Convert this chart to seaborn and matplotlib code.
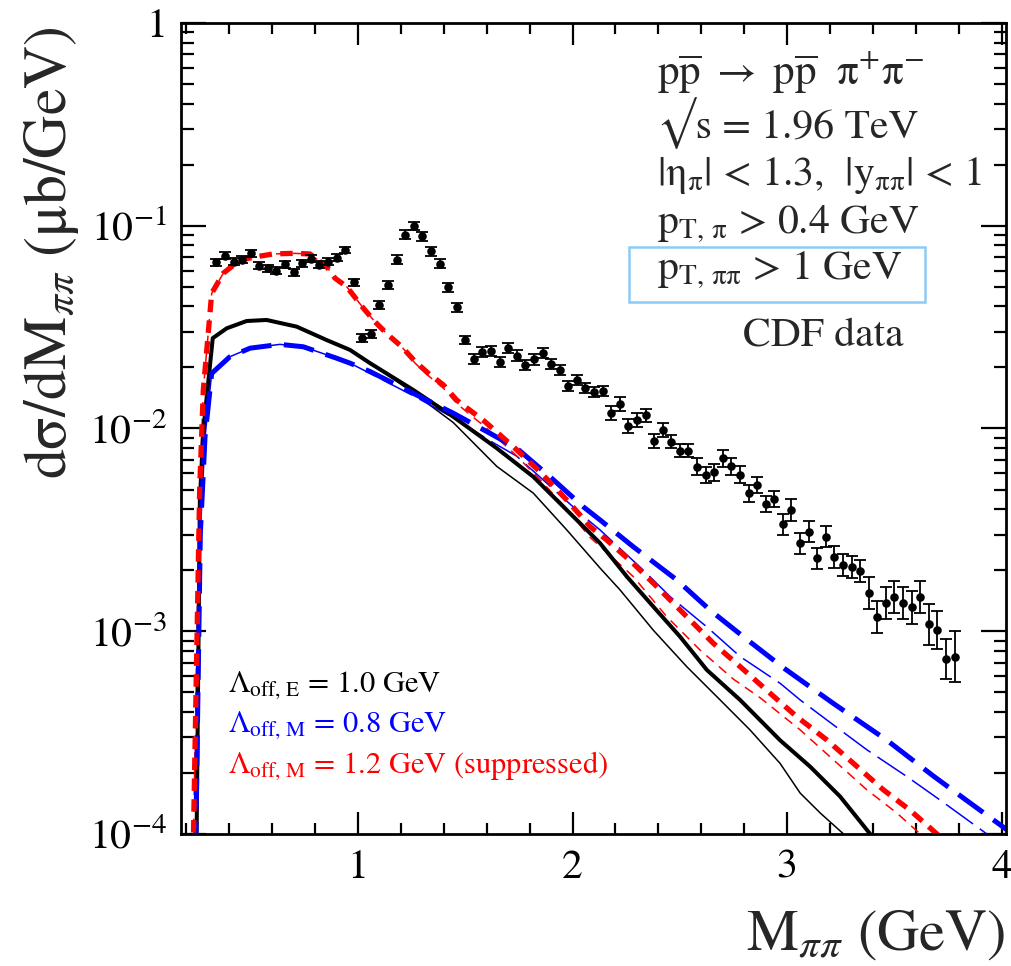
import numpy as np
import matplotlib
matplotlib.use("Agg")
import matplotlib.pyplot as plt
from matplotlib.patches import Rectangle
from matplotlib.ticker import FixedLocator, MultipleLocator, LogLocator, FuncFormatter, NullFormatter
import seaborn as sns

# ---------------- CDF data: dsigma/dM (ub/GeV) ----------------
cdf_mass = [0.34, 0.38, 0.42, 0.46, 0.50, 0.54, 0.58, 0.62, 0.66, 0.70,
            0.74, 0.78, 0.82, 0.86, 0.90, 0.94, 0.98, 1.02, 1.06, 1.10,
            1.14, 1.18, 1.22, 1.26, 1.30, 1.34, 1.38, 1.42, 1.46, 1.50,
            1.54, 1.58, 1.62, 1.66, 1.70, 1.74, 1.78, 1.82, 1.86, 1.90,
            1.94, 1.98, 2.02, 2.06, 2.10, 2.14, 2.18, 2.22, 2.26, 2.30,
            2.34, 2.38, 2.42, 2.46, 2.50, 2.54, 2.58, 2.62, 2.66, 2.70,
            2.74, 2.78, 2.82, 2.86, 2.90, 2.94, 2.98, 3.02, 3.06, 3.10,
            3.14, 3.18, 3.22, 3.26, 3.30, 3.34, 3.38, 3.42, 3.46, 3.50,
            3.54, 3.58, 3.62, 3.66, 3.70, 3.74, 3.78]
cdf_xsec = [0.0660, 0.0712, 0.0665, 0.0680, 0.0731, 0.0635, 0.0617, 0.0600, 0.0645, 0.0589,
            0.0653, 0.0686, 0.0642, 0.0663, 0.0696, 0.0759, 0.0526, 0.0280, 0.0293, 0.0407,
            0.0510, 0.0680, 0.0903, 0.0997, 0.0887, 0.0748, 0.0650, 0.0497, 0.0396, 0.0273,
            0.0221, 0.0238, 0.0241, 0.0212, 0.0249, 0.0229, 0.0206, 0.0219, 0.0235, 0.0208,
            0.0194, 0.0162, 0.0173, 0.0158, 0.0152, 0.0153, 0.0119, 0.0132, 0.0103, 0.0110,
            0.0116, 0.00870, 0.00983, 0.00861, 0.00777, 0.00777, 0.00648, 0.00590, 0.00608, 0.00713,
            0.00651, 0.00593, 0.00479, 0.00526, 0.00424, 0.00449, 0.00337, 0.00396, 0.00271, 0.00310,
            0.00229, 0.00293, 0.00233, 0.00212, 0.00208, 0.00198, 0.00154, 0.00117, 0.00138, 0.00148,
            0.00138, 0.00131, 0.00147, 0.00108, 0.00101, 0.00073, 0.00075]
# relative uncertainty of each point
cdf_relerr = [0.04] * 17 + [0.05] * 13 + [0.06] * 16 + [0.08] * 10 + [0.10] * 10 \
    + [0.13] * 10 + [0.20] * 7 + [0.26, 0.24, 0.25, 0.33]

# ---------------- model curves ----------------
# Lambda_off,E = 1.0 GeV (black)
blk_m = [0.245, 0.263, 0.279, 0.323, 0.388, 0.481, 0.574, 0.714, 0.854, 0.963, 1.056, 1.258,
         1.444, 1.647, 1.817, 1.973, 2.128, 2.253, 2.377, 2.501, 2.626, 2.781, 2.967, 3.107,
         3.247, 3.387, 3.45]
blk_thick = [5e-5, 0.0044, 0.0098, 0.0279, 0.0312, 0.0339, 0.0343, 0.0318, 0.0273, 0.0244, 0.0210,
             0.01548, 0.01143, 0.00799, 0.00578, 0.00396, 0.00272, 0.00186, 0.00132, 0.00094,
             0.000644, 0.000458, 0.00029, 0.000215, 0.000153, 0.0001, 0.00008]
blk_thin_m = [0.245, 0.263, 0.279, 0.323, 0.388, 0.481, 0.574, 0.714, 0.854, 0.963, 1.056, 1.258,
              1.444, 1.647, 1.817, 1.973, 2.128, 2.221, 2.377, 2.532, 2.688, 2.827, 2.967, 3.061,
              3.154, 3.263, 3.33]
blk_thin = [5e-5, 0.0044, 0.0098, 0.0279, 0.0312, 0.0339, 0.0343, 0.0318, 0.0273, 0.0244, 0.0210,
            0.0150, 0.0107, 0.0065, 0.0048, 0.00316, 0.00205, 0.0016, 0.00101, 0.000669,
            0.000458, 0.000326, 0.000223, 0.000159, 0.000127, 0.0001, 0.00008]

# Lambda_off,M = 0.8 GeV (blue)
blu_m = [0.24, 0.265, 0.287, 0.318, 0.403, 0.497, 0.636, 0.745, 0.901, 0.963, 1.056, 1.258,
         1.444, 1.615, 1.740, 1.895, 2.050, 2.128, 2.283, 2.486, 2.641, 2.796, 2.983, 3.154,
         3.216, 3.465, 3.682, 3.838, 4.024]
blu_thick = [5e-5, 0.003, 0.0091, 0.0187, 0.0226, 0.0249, 0.0260, 0.0253, 0.0222, 0.0210, 0.0191,
             0.0149, 0.0119, 0.00947, 0.00799, 0.00578, 0.00411, 0.00354, 0.00261, 0.00179,
             0.00127, 0.00094, 0.00066, 0.00049, 0.00044, 0.00029, 0.000193, 0.000146, 0.000105]
blu_thin_m = [0.24, 0.265, 0.287, 0.318, 0.403, 0.497, 0.636, 0.745, 0.901, 0.963, 1.056, 1.258,
              1.444, 1.615, 1.740, 1.895, 2.050, 2.128, 2.330, 2.455, 2.626, 2.781, 2.967, 3.061,
              3.185, 3.372, 3.558, 3.713, 3.931, 4.03]
blu_thin = [5e-5, 0.003, 0.0091, 0.0187, 0.0226, 0.0249, 0.0260, 0.0253, 0.0222, 0.0210, 0.0187,
            0.0145, 0.0113, 0.0087, 0.0073, 0.0052, 0.0037, 0.00316, 0.0020, 0.00148, 0.00105,
            0.00075, 0.000554, 0.000458, 0.000365, 0.00026, 0.000192, 0.000147, 0.0001, 0.000095]

# Lambda_off,M = 1.2 GeV, suppressed (red)
red_m = [0.228, 0.262, 0.279, 0.318, 0.372, 0.450, 0.528, 0.605, 0.698, 0.776, 0.854, 0.893,
         0.947, 1.025, 1.079, 1.141, 1.204, 1.266, 1.328, 1.398, 1.460, 1.522, 1.592, 1.662,
         1.724, 1.848, 1.973, 2.082, 2.159, 2.283, 2.408, 2.532, 2.656, 2.781, 2.921, 3.045,
         3.185, 3.309, 3.449, 3.573, 3.698, 3.75]
red_thick = [5e-5, 0.005, 0.0155, 0.0464, 0.0583, 0.0678, 0.0704, 0.0726, 0.0731, 0.0726, 0.0628,
             0.0551, 0.0501, 0.0392, 0.0336, 0.0289, 0.0253, 0.0214, 0.0187, 0.0164, 0.0138,
             0.0123, 0.0108, 0.00929, 0.00813, 0.00612, 0.00444, 0.00328, 0.00282, 0.00216,
             0.0016, 0.00118, 0.000872, 0.000669, 0.000494, 0.000379, 0.000291, 0.000223,
             0.000165, 0.000131, 0.0001, 0.00009]
red_thin_m = [0.228, 0.262, 0.279, 0.318, 0.372, 0.450, 0.528, 0.605, 0.698, 0.776, 0.854, 0.893,
              0.947, 1.025, 1.079, 1.141, 1.204, 1.266, 1.328, 1.398, 1.460, 1.522, 1.592, 1.662,
              1.724, 1.848, 1.973, 2.082, 2.159, 2.283, 2.439, 2.594, 2.750, 2.874, 3.061, 3.216,
              3.372, 3.511, 3.620, 3.68]
red_thin = [5e-5, 0.005, 0.0155, 0.0464, 0.0583, 0.0678, 0.0704, 0.0726, 0.0731, 0.0726, 0.0628,
            0.0551, 0.0501, 0.0392, 0.0336, 0.0289, 0.0253, 0.0210, 0.0182, 0.0158, 0.0133,
            0.0117, 0.0102, 0.0087, 0.0076, 0.0056, 0.0040, 0.0029, 0.00245, 0.00186, 0.00118,
            0.000808, 0.00058, 0.00047, 0.000326, 0.000232, 0.000165, 0.000127, 0.0001, 0.00009]

y_tick_values = [1e-4, 1e-3, 1e-2, 1e-1, 1.0]
y_tick_labels = [r"$10^{-4}$", r"$10^{-3}$", r"$10^{-2}$", r"$10^{-1}$", "1"]
x_tick_values = [1, 2, 3, 4]

# ---------------- style ----------------
sns.set_style("ticks")
plt.rcParams["font.family"] = ["STIXGeneral", "DejaVu Serif"]
plt.rcParams["mathtext.fontset"] = "stix"
plt.rcParams["lines.scale_dashes"] = False

W, H = 1011, 966
fig = plt.figure(figsize=(W / 100, H / 100), dpi=100)
fig.patch.set_facecolor("white")
ax_l, ax_r, ax_t, ax_b = 181, 1006, 23, 834
ax = fig.add_axes([ax_l / W, 1 - ax_b / H, (ax_r - ax_l) / W, (ax_b - ax_t) / H])
ax.set_yscale("log")
ax.set_xlim(0.175, 4.02)
ax.set_ylim(1e-4, 1)

curves = [
    (blk_thin_m, blk_thin, "black", 1.1, "-"),
    (blu_thin_m, blu_thin, "#0000ff", 1.1, (0, (24, 6))),
    (red_thin_m, red_thin, "#ff0000", 1.1, (0, (7, 5))),
    (blk_m, blk_thick, "black", 2.9, "-"),
    (blu_m, blu_thick, "#0000ff", 3.6, (0, (22, 9))),
    (red_m, red_thick, "#ff0000", 3.8, (0, (9, 6))),
]
for mx, my, col, lw, ls in curves:
    sns.lineplot(x=mx, y=my, ax=ax, color=col, linewidth=lw, linestyle=ls,
                 estimator=None, sort=False, legend=False)

# data points with error bars
xsec = np.array(cdf_xsec)
rel = np.array(cdf_relerr)
err_lo = xsec - xsec / (1 + rel)
err_hi = xsec * rel
ax.errorbar(cdf_mass, cdf_xsec, yerr=[err_lo, err_hi], fmt="none", ecolor="black",
            elinewidth=1.3, capsize=4, capthick=1.3, zorder=5)
sns.scatterplot(x=cdf_mass, y=cdf_xsec, ax=ax, color="black", s=38, edgecolor="black",
                linewidth=0, zorder=6, legend=False)

# axes, ticks
for sp in ax.spines.values():
    sp.set_linewidth(2.0)
    sp.set_color("black")
ax.xaxis.set_major_locator(FixedLocator(x_tick_values))
ax.xaxis.set_minor_locator(MultipleLocator(0.2))
ax.xaxis.set_major_formatter(FuncFormatter(lambda v, p: f"{v:g}"))
ax.yaxis.set_major_locator(FixedLocator(y_tick_values))
ax.yaxis.set_minor_locator(LogLocator(base=10, subs=np.arange(2, 10), numticks=20))
ax.yaxis.set_minor_formatter(NullFormatter())
ax.set_yticklabels(y_tick_labels)
ax.tick_params(which="both", direction="in", top=True, right=True, width=1.6,
               colors="black", labelsize=30)
ax.tick_params(axis="x", which="major", length=16, pad=11)
ax.tick_params(axis="x", which="minor", length=8)
ax.tick_params(axis="y", which="major", length=18, pad=10)
ax.tick_params(axis="y", which="minor", length=9)
ax.set_xlabel("")
ax.set_ylabel("")

def fx(px):
    return px / W

def fy(py):
    return 1 - py / H

# axis titles
fig.text(fx(1005), fy(950), r"M$_{\pi\pi}$ (GeV)", fontsize=42, ha="right", va="baseline")
fig.text(fx(52), fy(26), r"d$\mathrm{\sigma}$/dM$_{\pi\pi}$ ($\mathrm{\mu}$b/GeV)",
         fontsize=43, rotation=90, ha="center", va="top")

# process and cuts
fs = 30
fig.text(fx(657), fy(85), r"$\mathrm{p\overline{p}\ \rightarrow\ p\overline{p}\ \ \pi^{+}\pi^{-}}$",
         fontsize=31, ha="left", va="baseline")
fig.text(fx(657), fy(138), "\u221as = 1.96 TeV", fontsize=fs, ha="left", va="baseline")
fig.text(fx(657), fy(185), r"|$\mathrm{\eta_{\pi}}$| < 1.3,  |$\mathrm{y_{\pi\pi}}$| < 1",
         fontsize=fs, ha="left", va="baseline")
fig.text(fx(657), fy(233), r"$\mathrm{p_{T,\,\pi}}$ > 0.4 GeV", fontsize=fs, ha="left", va="baseline")
fig.text(fx(657), fy(279), r"$\mathrm{p_{T,\,\pi\pi}}$ > 1 GeV", fontsize=fs, ha="left", va="baseline")
fig.text(fx(743), fy(345), "CDF data", fontsize=fs, ha="left", va="baseline")
fig.patches.append(Rectangle((fx(629), fy(302)), fx(925) - fx(629), fy(247) - fy(302),
                             transform=fig.transFigure, fill=False, edgecolor="#8ccbf5",
                             linewidth=1.8))

# model labels
fs2 = 22
fig.text(fx(228), fy(692), r"$\Lambda_{\mathrm{off,\,E}}$ = 1.0 GeV", fontsize=fs2,
         color="black", ha="left", va="baseline")
fig.text(fx(228), fy(732), r"$\Lambda_{\mathrm{off,\,M}}$ = 0.8 GeV", fontsize=fs2,
         color="#0000ff", ha="left", va="baseline")
fig.text(fx(228), fy(773), r"$\Lambda_{\mathrm{off,\,M}}$ = 1.2 GeV (suppressed)", fontsize=fs2,
         color="#ff0000", ha="left", va="baseline")

fig.savefig("out.png", dpi=100, facecolor="white")
